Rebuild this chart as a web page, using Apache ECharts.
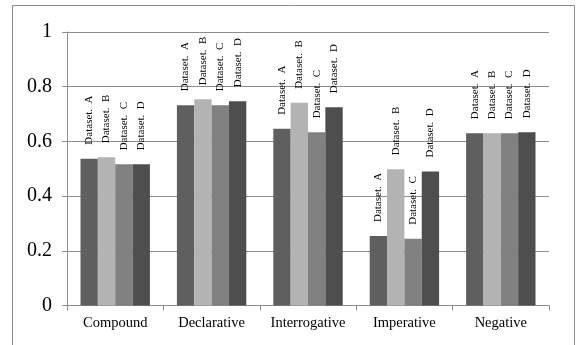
<!DOCTYPE html>
<html>
<head>
<meta charset="utf-8">
<script src="https://cdn.jsdelivr.net/npm/echarts@6/dist/echarts.min.js"></script>
<style>
  html, body { margin: 0; padding: 0; background: #fff; }
  #chart { width: 577px; height: 345px; }
</style>
</head>
<body>
<div id="chart"></div>
<script>
// Sentence types on the x axis
const categories = ['Compound', 'Declarative', 'Interrogative', 'Imperative', 'Negative'];

// Scores per dataset, one value per sentence type
const datasetA = [0.537, 0.732, 0.646, 0.254, 0.630];
const datasetB = [0.542, 0.754, 0.741, 0.498, 0.630];
const datasetC = [0.516, 0.732, 0.633, 0.244, 0.630];
const datasetD = [0.516, 0.747, 0.725, 0.490, 0.633];

const seriesNames = ['Dataset.  A', 'Dataset.  B', 'Dataset.  C', 'Dataset.  D'];
const seriesData = [datasetA, datasetB, datasetC, datasetD];
const seriesColors = ['#5f5f5f', '#b3b3b3', '#818181', '#4e4e4e'];

// Value axis ticks
const yTicks = [0, 0.2, 0.4, 0.6, 0.8, 1];

const serif = '"Liberation Serif", "DejaVu Serif", serif';
const gridGray = '#8c8c8c';

const chart = echarts.init(document.getElementById('chart'), null, { renderer: 'canvas' });

chart.setOption({
  backgroundColor: '#ffffff',
  animation: false,
  graphic: [{
    type: 'rect',
    shape: { x: 12.5, y: 5.5, width: 562, height: 360 },
    style: { fill: 'none', stroke: '#8a8a8a', lineWidth: 1 },
    silent: true
  }],
  grid: { left: 67, right: 28, top: 32, bottom: 39.5, containLabel: false },
  xAxis: {
    type: 'category',
    data: categories,
    axisLine: { lineStyle: { color: gridGray, width: 1 } },
    axisTick: { show: true, length: 5, interval: 0, lineStyle: { color: gridGray } },
    axisLabel: { interval: 0, hideOverlap: false, fontFamily: serif, fontSize: 14.5, color: '#000', margin: 10 },
    splitLine: { show: false }
  },
  yAxis: {
    type: 'value',
    min: yTicks[0],
    max: yTicks[yTicks.length - 1],
    interval: 0.2,
    axisLine: { show: true, lineStyle: { color: gridGray, width: 1 } },
    axisTick: { show: true, length: 5, lineStyle: { color: gridGray } },
    axisLabel: {
      fontFamily: serif, fontSize: 20, color: '#000', margin: 15,
      formatter: v => String(Math.round(v * 10) / 10)
    },
    splitLine: { show: true, lineStyle: { color: gridGray, width: 1 } }
  },
  series: seriesNames.map((name, i) => ({
    name: name,
    type: 'bar',
    data: seriesData[i],
    barGap: '0%',
    barCategoryGap: '28%',
    itemStyle: { color: seriesColors[i] },
    label: {
      show: true,
      position: 'top',
      distance: 14,
      rotate: 90,
      align: 'left',
      verticalAlign: 'middle',
      formatter: name,
      fontFamily: serif,
      fontSize: 11,
      color: '#000'
    }
  }))
});
</script>
</body>
</html>
